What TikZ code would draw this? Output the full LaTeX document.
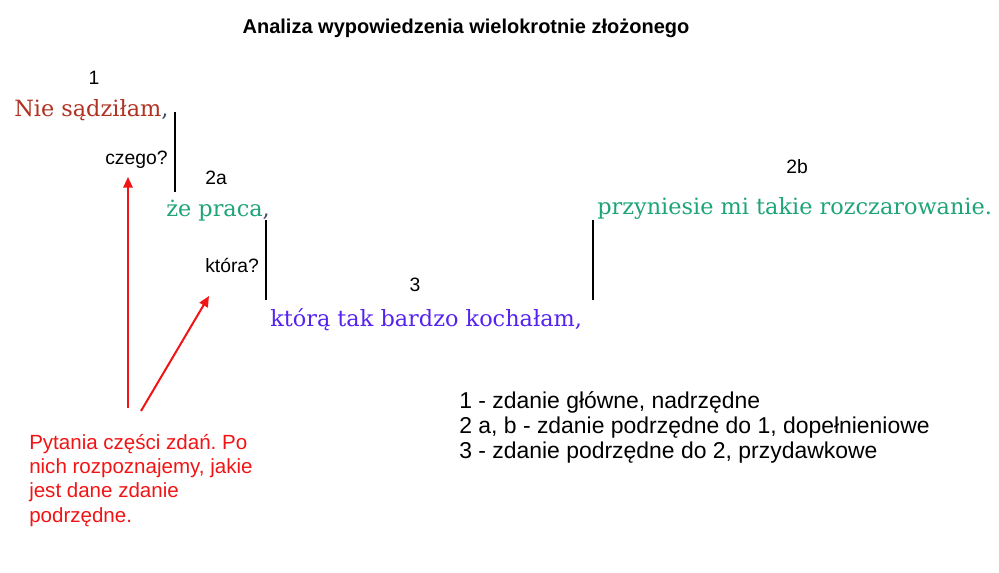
\documentclass[tikz,border=0pt]{standalone}
\usepackage{fontspec}
\setmainfont{Liberation Sans}
\newfontfamily\zdfont{DejaVu Serif}
\usetikzlibrary{arrows.meta}
\definecolor{zdred}{HTML}{B03222}
\definecolor{zdgreen}{HTML}{1FA478}
\definecolor{zdblue}{HTML}{5522F0}
\definecolor{zdcomma}{HTML}{3C4A63}
\definecolor{pytred}{HTML}{F21414}
\frenchspacing

\begin{document}
\begin{tikzpicture}[x=0.75pt,y=-0.75pt,
	lbl/.style={inner sep=0pt,font=\fontsize{14.5}{18}\selectfont},
	zd/.style={inner sep=0pt,anchor=base west,font=\zdfont\fontsize{16.8}{20}\selectfont},
	bar/.style={line width=1.5pt},
	pyt/.style={pytred,line width=1.5pt,-{Triangle[length=8pt,width=7pt]}}]
	\useasboundingbox (0,0) rectangle (999,573);
	
	\node[inner sep=0pt,font=\bfseries\fontsize{15}{18}\selectfont] (tytul) at (466,28) {Analiza wypowiedzenia wielokrotnie złożonego};
	
	\node[lbl,anchor=base] (n1) at (94,85) {1};
	\node[zd,text=zdred] (z1) at (14,117) {Nie sądziłam\textcolor{zdcomma}{,}};
	\node[lbl,anchor=base west] (q1) at (105,165) {czego?};
	\node[lbl,anchor=base] (n2a) at (216,185) {2a};
	\node[zd,text=zdgreen] (z2a) at (166,217) {że praca\textcolor{zdcomma}{,}};
	\node[lbl,anchor=base west] (q2) at (205,273) {która?};
	\node[lbl,anchor=base] (n3) at (415,292) {3};
	\node[zd,text=zdblue] (z3) at (270,327) {którą tak bardzo kochałam,};
	\node[lbl,anchor=base] (n2b) at (797,174) {2b};
	\node[zd,text=zdgreen] (z2b) at (597,215) {przyniesie mi takie rozczarowanie.};
	
	\coordinate (b1a) at (175,112);
	\coordinate (b1b) at (175,192);
	\coordinate (b2a) at (266,220);
	\coordinate (b2b) at (266,300);
	\coordinate (b3a) at (593,220);
	\coordinate (b3b) at (593,300);
	\draw[bar] (b1a) -- (b1b);
	\draw[bar] (b2a) -- (b2b);
	\draw[bar] (b3a) -- (b3b);
	
	\node[lbl,anchor=north west,align=left,text=pytred,font=\fontsize{15.4}{18.2}\selectfont] (pyt) at (29,434) {Pytania części zdań. Po\\nich rozpoznajemy, jakie\\jest dane zdanie\\podrzędne.};
	\coordinate (s1) at (128,408);
	\coordinate (t1) at (128,177);
	\coordinate (s2) at (141,411);
	\coordinate (t2) at (209,296);
	\draw[pyt] (s1) -- (t1);
	\draw[pyt] (s2) -- (t2);
	
	\node[lbl,anchor=north west,align=left,font=\fontsize{17.2}{18.75}\selectfont] (leg) at (459,391) {1 - zdanie główne, nadrzędne\\2 a, b - zdanie podrzędne do 1, dopełnieniowe\\3 - zdanie podrzędne do 2, przydawkowe};
\end{tikzpicture}
\end{document}
